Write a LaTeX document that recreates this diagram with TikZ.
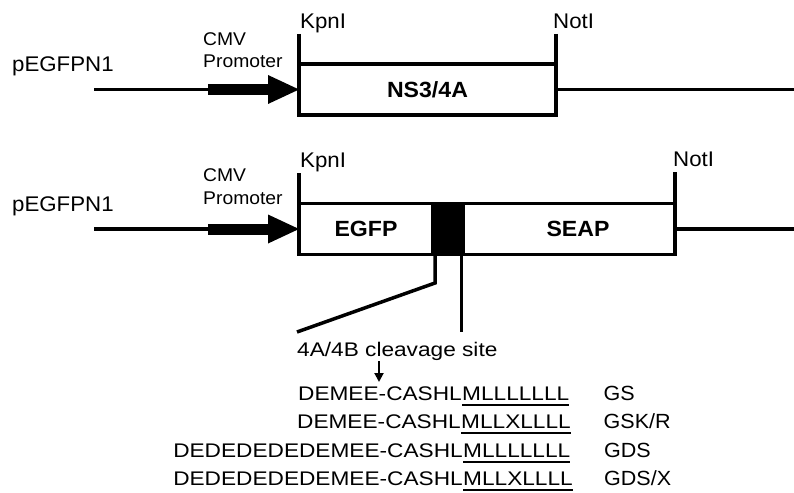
\documentclass[tikz,border=0pt]{standalone}
\usepackage{fontspec}
\setmainfont{Liberation Sans}
\newfontfamily\labelsans[FakeStretch=1.05]{Liberation Sans}
\newfontfamily\seqsans[FakeStretch=1.15]{Liberation Sans}
\usetikzlibrary{arrows.meta}
\begin{document}
\begin{tikzpicture}[x=1pt,y=-1pt,
  dna/.style={line width=3.5pt},
  lbl/.style={font=\labelsans\fontsize{21.2}{24}\selectfont, inner sep=0pt, anchor=base west},
  prom/.style={font=\labelsans\fontsize{18.4}{22.3}\selectfont, inner sep=0pt, anchor=base west, align=left},
  gene/.style={draw, line width=3.5pt, outer sep=0pt, inner sep=0pt, minimum height=51pt,
    font=\labelsans\bfseries\fontsize{22}{24}\selectfont},
  site/.style={gene, fill=black},
  seq/.style={font=\seqsans\fontsize{19.7}{22}\selectfont, inner sep=0pt},
  tag/.style={font=\labelsans\fontsize{20.5}{22}\selectfont, inner sep=0pt, anchor=base west},
  shaft/.style={line width=11pt},
  uline/.style={line width=2pt},
]
\useasboundingbox (0,0) rectangle (794,492);

% ---------- construct 1: NS3/4A ----------
\node[lbl] (vec1) at (12,72) {pEGFPN1};
% multi-line node: its base is the baseline of the last line
\node[prom] (cmv1) at (203,67.5) {CMV\\Promoter};
\node[gene, minimum width=257pt] (ns) at (427.5,89.5) {NS3/4A};
\node[lbl] (kpn1) at (300,28.3) {KpnI};
\node[lbl] (not1) at (553,28.3) {NotI};
\coordinate (start1) at (94,89.5);
\coordinate (prs1) at (208,89.5);
\coordinate (pre1) at (270,89.5);
\coordinate (end1) at (794,89.5);
\coordinate (ktop1) at (299,34);
\coordinate (ntop1) at (556,34);
\draw[dna] (start1) -- (prs1);
\draw[shaft] (prs1) -- (pre1);
\fill (268,75) -- (ns.west) -- (268,104) -- cycle;
\draw[dna] (ns.east) -- (end1);
\draw[dna] (ktop1) -- (ns.south west);
\draw[dna] (ntop1) -- (ns.south east);

% ---------- construct 2: EGFP-site-SEAP ----------
\node[lbl] (vec2) at (12,211) {pEGFPN1};
\node[prom] (cmv2) at (203,204) {CMV\\Promoter};
\node[gene, minimum width=134pt] (egfp) at (366,229) {EGFP};
\node[site, minimum width=30pt] (cut) at (448,229) {};
\node[gene, minimum width=212pt] (seap) at (569,229) {};
\node[font=\labelsans\bfseries\fontsize{22}{24}\selectfont, inner sep=0pt] (seapt) at (578,229) {SEAP};
\node[lbl] (kpn2) at (300,167) {KpnI};
\node[lbl] (not2) at (673,166) {NotI};
\coordinate (start2) at (94,229);
\coordinate (prs2) at (208,229);
\coordinate (pre2) at (270,229);
\coordinate (end2) at (794,229);
\coordinate (ktop2) at (299,173);
\coordinate (ntop2) at (675,172);
\draw[dna] (start2) -- (prs2);
\draw[shaft] (prs2) -- (pre2);
\fill (268,214.5) -- (egfp.west) -- (268,243.5) -- cycle;
\draw[dna] (seap.east) -- (end2);
\draw[dna] (ktop2) -- (egfp.south west);
\draw[dna] (ntop2) -- (seap.south east);

% ---------- zoom-out of the cleavage site ----------
\coordinate (bend) at (435,283);
\coordinate (fanl) at (297,332);
\coordinate (fanr) at (461.5,332);
\draw[dna, line join=miter] ([xshift=2pt]cut.south west) -- (bend) -- (fanl);
\draw[dna] ([xshift=-1.5pt]cut.south east) -- (fanr);
\node[seq, anchor=base west] (cleave) at (297,356.7) {4A/4B cleavage site};

% ---------- substrate sequences ----------
\node[seq, anchor=base east] (p1) at (462,400) {DEMEE-CASHL};
\node[seq, anchor=base west] (t1) at (462,400) {MLLLLLLL};
\node[seq, anchor=base east] (p2) at (461,428.5) {DEMEE-CASHL};
\node[seq, anchor=base west] (t2) at (461,428.5) {MLLXLLLL};
\node[seq, anchor=base east] (p3) at (463,457) {DEDEDEDEDEMEE-CASHL};
\node[seq, anchor=base west] (t3) at (463,457) {MLLLLLLL};
\node[seq, anchor=base east] (p4) at (463,485.5) {DEDEDEDEDEMEE-CASHL};
\node[seq, anchor=base west] (t4) at (463,485.5) {MLLXLLLL};
\foreach \t in {t1,t2,t3,t4}
  \draw[uline] ([yshift=-4.5pt]\t.base west) -- ([yshift=-4.5pt]\t.base east);

\node[tag] (g1) at (603.5,400) {GS};
\node[tag] (g2) at (603.5,428.5) {GSK/R};
\node[tag] (g3) at (604,457) {GDS};
\node[tag] (g4) at (604,485.5) {GDS/X};

% cleavage point marker
\coordinate (mk) at (379,361);
\coordinate (mkend) at (379,382);
\draw[line width=2pt, -{Triangle[length=9pt,width=9pt]}] (mk) -- (mkend);
\end{tikzpicture}
\end{document}
